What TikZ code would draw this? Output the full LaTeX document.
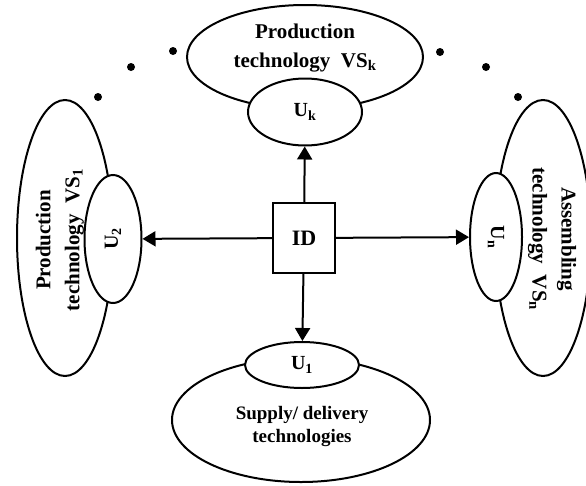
\documentclass[tikz,border=0pt]{standalone}
\usepackage{fontspec}
\setmainfont{Liberation Serif}
\usetikzlibrary{shapes.geometric,arrows.meta}

\begin{document}
\begin{tikzpicture}[x=1pt,y=-1pt,line width=2pt,
    outer/.style={draw,ellipse,inner sep=0pt},
    inner/.style={draw,ellipse,fill=white,inner sep=0pt,font=\fontsize{20}{22}\selectfont\bfseries},
    vstext/.style={align=center,font=\fontsize{21}{29}\selectfont\bfseries},
    link/.style={-{Triangle[length=13pt,width=15pt]}}]
    \useasboundingbox (0,0) rectangle (586,485);

    % technologies
    \node[outer,minimum width=236pt,minimum height=104pt] (vsk) at (305,57) {};
    \node[outer,minimum width=96pt,minimum height=276pt] (vs1) at (65,238) {};
    \node[outer,minimum width=96pt,minimum height=276pt] (vsn) at (543,238) {};
    \node[outer,minimum width=258pt,minimum height=124pt] (supply) at (301,420) {};

    \node[vstext] (vsktext) at (305,48) {Production\\technology\ \ VS\textsubscript{k}};
    \node[vstext,rotate=90] (vs1text) at (60,240) {Production\\technology\ \ VS\textsubscript{1}};
    \node[vstext,rotate=-90] (vsntext) at (552,239) {Assembling\\technology\ \ VS\textsubscript{n}};
    \node[vstext,font=\fontsize{19}{23}\selectfont\bfseries] (supplytext) at (302,426) {Supply/ delivery\\technologies};

    % units
    \node[inner,minimum width=114pt,minimum height=67pt] (uk) at (305,112) {U\textsubscript{k}};
    \node[inner,minimum width=57pt,minimum height=128pt] (u2) at (113,239) {\rotatebox{90}{U\textsubscript{2}}};
    \node[inner,minimum width=52pt,minimum height=128pt] (un) at (496,237) {\rotatebox{-90}{U\textsubscript{n}}};
    \node[inner,minimum width=114pt,minimum height=46pt] (u1) at (302,365) {U\textsubscript{1}};

    \node[draw,minimum width=62pt,minimum height=70pt,font=\fontsize{22}{24}\selectfont\bfseries] (id) at (304,238) {ID};

    \draw[link] (id) -- (uk);
    \draw[link] (id) -- (u2);
    \draw[link] (id) -- (un);
    \draw[link] (id) -- (u1);

    \foreach \p in {(98,97),(131,67),(173,51),(440,52),(486,67),(518,97)}
        \fill \p circle (4pt);
\end{tikzpicture}
\end{document}
